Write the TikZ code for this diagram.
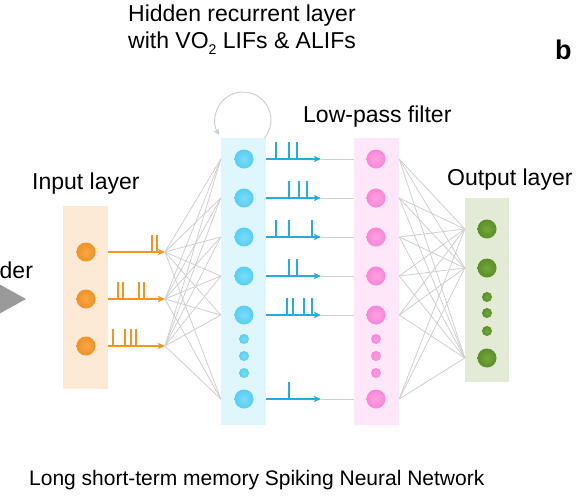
\documentclass[tikz,border=0pt]{standalone}
\usepackage{fontspec}
\setmainfont{Liberation Sans}
\usetikzlibrary{calc,arrows.meta}
\def\centerarc[#1](#2)(#3:#4:#5){\draw[#1] ($(#2)+({#5*cos(#3)},{#5*sin(#3)})$) arc (#3:#4:#5);}

\definecolor{inboxfill}{HTML}{FCE9D6}
\definecolor{hidboxfill}{HTML}{DFF6FD}
\definecolor{lpboxfill}{HTML}{FDE7F8}
\definecolor{outboxfill}{HTML}{E3EAD6}
\definecolor{inorange}{HTML}{F7941D}
\definecolor{hidblue}{HTML}{27A9E1}
\definecolor{wiregray}{HTML}{CFCFCF}
\definecolor{encgray}{HTML}{9A9A9A}

\tikzset{
	unit/.style={circle, minimum size=19pt, inner sep=0pt},
	smallunit/.style={circle, minimum size=10pt, inner sep=0pt},
	inunit/.style={shading=radial, inner color={rgb,255:red,248;green,166;blue,70}, outer color={rgb,255:red,243;green,146;blue,34}},
	hidunit/.style={shading=radial, inner color={rgb,255:red,122;green,220;blue,248}, outer color={rgb,255:red,85;green,207;blue,244}},
	lpunit/.style={shading=radial, inner color={rgb,255:red,255;green,159;blue,226}, outer color={rgb,255:red,251;green,134;blue,216}},
	outunit/.style={shading=radial, inner color={rgb,255:red,115;green,168;blue,58}, outer color={rgb,255:red,90;green,142;blue,39}},
	layerbox/.style={inner sep=0pt, minimum width=45pt},
	wire/.style={draw=wiregray, line width=0.8pt},
	spiketrain/.style={line width=1.5pt, -{Stealth[length=7pt,width=6pt,inset=1.5pt]}},
	tick/.style={line width=1.5pt},
	lbl/.style={font=\fontsize{23}{27}\selectfont, anchor=base west, inner sep=0pt},
}

\begin{document}
\begin{tikzpicture}[x=1pt,y=-1pt]
		\useasboundingbox (0,0) rectangle (584,501);
		\clip (0,0) rectangle (584,501);
		
		%%%%% LAYER BOXES %%%%%
		\node[layerbox, fill=inboxfill, minimum height=183pt] (inbox) at (85.5,297.5) {};
		\node[layerbox, fill=hidboxfill, minimum height=287pt] (hidbox) at (243.5,281) {};
		\node[layerbox, fill=lpboxfill, minimum height=287pt] (lpbox) at (376.5,281) {};
		\node[layerbox, fill=outboxfill, minimum height=184pt, minimum width=44pt] (outbox) at (487,290) {};
		
		%%%%% UNITS %%%%%
		\foreach \i/\y in {1/252,2/299,3/346}
			\node[unit, inunit] (in\i) at (86,\y) {};
		\foreach \j/\y in {1/159,2/198,3/237,4/276,5/315,6/399} {
			\node[unit, hidunit] (h\j) at (244,\y) {};
			\node[unit, lpunit] (p\j) at (376,\y) {};
		}
		\foreach \j/\y in {1/339,2/356,3/373} {
			\node[smallunit, hidunit] (hd\j) at (244,\y) {};
			\node[smallunit, lpunit] (pd\j) at (376,\y) {};
		}
		\foreach \k/\y in {1/229,2/268,3/358}
			\node[unit, outunit] (o\k) at (487,\y) {};
		\foreach \k/\y in {1/297,2/313,3/331}
			\node[smallunit, outunit] (od\k) at (487,\y) {};
		
		%%%%% INPUT SPIKES %%%%%
		\foreach \i in {1,2,3} {
			\coordinate (fan\i) at ($(in\i)+(79,0)$);
			\draw[spiketrain, inorange] (inbox.east |- in\i) -- (fan\i);
			\foreach \j in {1,...,6}
				\draw[wire] (fan\i) -- (hidbox.west |- h\j);
		}
		\foreach \i/\ticks in {1/{152,157},2/{118,123,139,144},3/{113,125,131,136}}
			\foreach \t in \ticks
				\draw[tick, inorange] (\t,0 |- in\i) -- ++(0,-17);
		
		%%%%% HIDDEN SPIKES %%%%%
		\foreach \j in {1,...,6} {
			\coordinate (tip\j) at ($(h\j)+(77,0)$);
			\draw[wire] (tip\j) -- (lpbox.west |- p\j);
			\draw[spiketrain, hidblue] (hidbox.east |- h\j) -- (tip\j);
			\foreach \k in {1,2,3}
				\draw[wire] (lpbox.east |- p\j) -- (outbox.west |- o\k);
		}
		\foreach \j/\ticks in {1/{276,289,297},2/{289,299,307},3/{276,289,312},4/{289,297},5/{287,293,304,312},6/{289}}
			\foreach \t in \ticks
				\draw[tick, hidblue] (\t,0 |- h\j) -- ++(0,-17);
		
		%%%%% RECURRENT LOOP %%%%%
		\coordinate (loop) at (243,120);
		\centerarc[wiregray, line width=1pt, -{Stealth[length=7pt,width=6pt]}](loop)(40:-213:28);
		
		%%%%% ENCODER %%%%%
		\fill[encgray] (-3,283) -- (26,299) -- (-3,315) -- cycle;
		\node[lbl] (enc) at (-0.5,278) {der};
		
		%%%%% LABELS %%%%%
		\node[lbl, align=left] (hidlbl) at (128,48) {Hidden recurrent layer\\with VO\raisebox{-6pt}{\fontsize{14}{14}\selectfont 2} LIFs \& ALIFs};
		\node[lbl] (inlbl) at (32,189) {Input layer};
		\node[lbl] (lplbl) at (303,122) {Low-pass filter};
		\node[lbl] (outlbl) at (447,185) {Output layer};
		\node[lbl, font=\fontsize{21}{25}\selectfont] (title) at (29,485) {Long short-term memory Spiking Neural Network};
		\node[lbl, font=\fontsize{27}{30}\selectfont\bfseries] (panel) at (555,59) {b};
	\end{tikzpicture}
\end{document}
